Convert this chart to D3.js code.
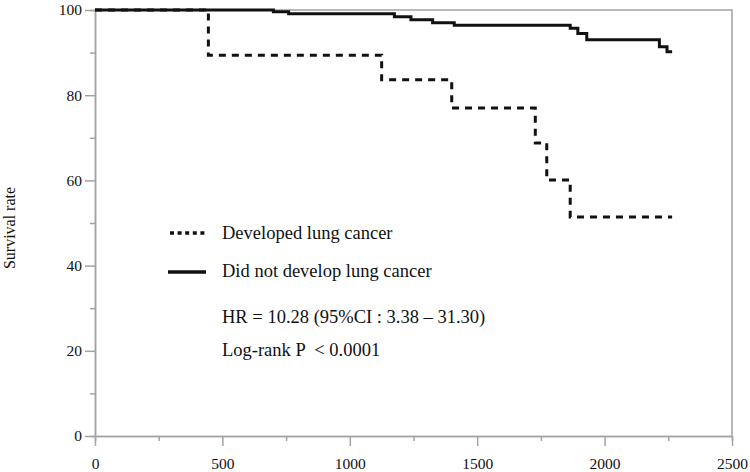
<!DOCTYPE html>
<html>
<head>
<meta charset="utf-8">
<script src="https://cdn.jsdelivr.net/npm/d3@7"></script>
<style>
  body { margin: 0; background: #fff; }
  text { font-family: "Liberation Serif", "Times New Roman", serif; fill: #111; }
</style>
</head>
<body>
<div id="chart"></div>
<script>
// survival curves (days, survival %)
var noCancerDays = [0, 700, 760, 1175, 1240, 1325, 1410, 1865, 1895, 1930, 2215, 2245, 2265];
var noCancerSurv = [100, 99.6, 99.1, 98.4, 97.7, 97.0, 96.4, 95.7, 94.5, 93.0, 91.4, 90.2, 90.2];
var cancerDays = [0, 445, 1125, 1400, 1728, 1773, 1865, 2265];
var cancerSurv = [100, 89.4, 83.6, 77.0, 68.8, 60.1, 51.4, 51.4];

var xTicks = [0, 500, 1000, 1500, 2000, 2500];
var yTicks = [0, 20, 40, 60, 80, 100];
var legendLabels = ["Developed lung cancer", "Did not develop lung cancer"];
var statLines = ["HR = 10.28 (95%CI : 3.38 \u2013 31.30)", "Log-rank P \u00a0< 0.0001"];

var width = 750, height = 472;
var plotLeft = 95, plotRight = 732, plotTop = 10, plotBottom = 436;
var axisColor = "#a3a3a3";

var svg = d3.select("#chart").append("svg")
    .attr("width", width).attr("height", height);

var x = d3.scaleLinear().domain([0, 2500]).range([plotLeft, plotRight]);
var y = d3.scaleLinear().domain([0, 100]).range([plotBottom, plotTop]);

// box border (top & right)
svg.append("path")
    .attr("d", "M" + plotLeft + "," + plotTop + "H" + plotRight + "V" + plotBottom)
    .attr("fill", "none").attr("stroke", axisColor).attr("stroke-width", 1.5);

// minor ticks
var xAxisMinor = d3.axisBottom(x).tickValues(d3.range(250, 2500, 500)).tickSize(5).tickFormat("");
var yAxisMinor = d3.axisLeft(y).tickValues(d3.range(10, 100, 20)).tickSize(5).tickFormat("");

var xAxis = d3.axisBottom(x).tickValues(xTicks).tickSize(10).tickPadding(12)
    .tickSizeOuter(0).tickFormat(d3.format("d"));
var yAxis = d3.axisLeft(y).tickValues(yTicks).tickSize(10).tickPadding(3)
    .tickSizeOuter(0).tickFormat(d3.format("d"));

function styleAxis(g) {
    g.select(".domain").attr("stroke", axisColor).attr("stroke-width", 1.5);
    g.selectAll(".tick line").attr("stroke", axisColor).attr("stroke-width", 1.5);
    g.selectAll("text")
        .style("font-family", "'Liberation Serif', 'Times New Roman', serif")
        .style("font-size", "15.5px").attr("fill", "#111");
}

svg.append("g").attr("transform", "translate(0," + plotBottom + ")").call(xAxisMinor).call(styleAxis);
svg.append("g").attr("transform", "translate(" + plotLeft + ",0)").call(yAxisMinor).call(styleAxis);
svg.append("g").attr("transform", "translate(0," + plotBottom + ")").call(xAxis).call(styleAxis);
svg.append("g").attr("transform", "translate(" + plotLeft + ",0)").call(yAxis).call(styleAxis);

// y axis title
svg.append("text")
    .attr("transform", "translate(15,228) rotate(-90)")
    .attr("text-anchor", "middle")
    .style("font-size", "16px")
    .text("Survival rate");

var line = d3.line()
    .x(function(d) { return x(d[0]); })
    .y(function(d) { return y(d[1]); })
    .curve(d3.curveStepAfter);

svg.append("path")
    .datum(d3.zip(cancerDays, cancerSurv))
    .attr("d", line)
    .attr("fill", "none").attr("stroke", "#111")
    .attr("stroke-width", 3).attr("stroke-dasharray", "7,6");

svg.append("path")
    .datum(d3.zip(noCancerDays, noCancerSurv))
    .attr("d", line)
    .attr("fill", "none").attr("stroke", "#111")
    .attr("stroke-width", 3);

// legend
var legend = svg.append("g").attr("transform", "translate(168,233)");
legend.append("line")
    .attr("x1", 2).attr("x2", 38).attr("y1", 0).attr("y2", 0)
    .attr("stroke", "#111").attr("stroke-width", 3.5).attr("stroke-dasharray", "4,3.6");
legend.append("line")
    .attr("x1", 0).attr("x2", 38).attr("y1", 39).attr("y2", 39)
    .attr("stroke", "#111").attr("stroke-width", 3.5);
legend.selectAll("text.lab")
    .data(legendLabels)
    .enter()
    .append("text")
    .attr("class", "lab")
    .attr("x", 54)
    .attr("y", function(d, i) { return 6 + i * 38; })
    .style("font-size", "18.5px")
    .text(function(d) { return d; });

svg.selectAll("text.stat")
    .data(statLines)
    .enter()
    .append("text")
    .attr("class", "stat")
    .attr("x", 222)
    .attr("y", function(d, i) { return 323 + i * 33; })
    .style("font-size", "18.5px")
    .text(function(d) { return d; });
</script>
</body>
</html>
